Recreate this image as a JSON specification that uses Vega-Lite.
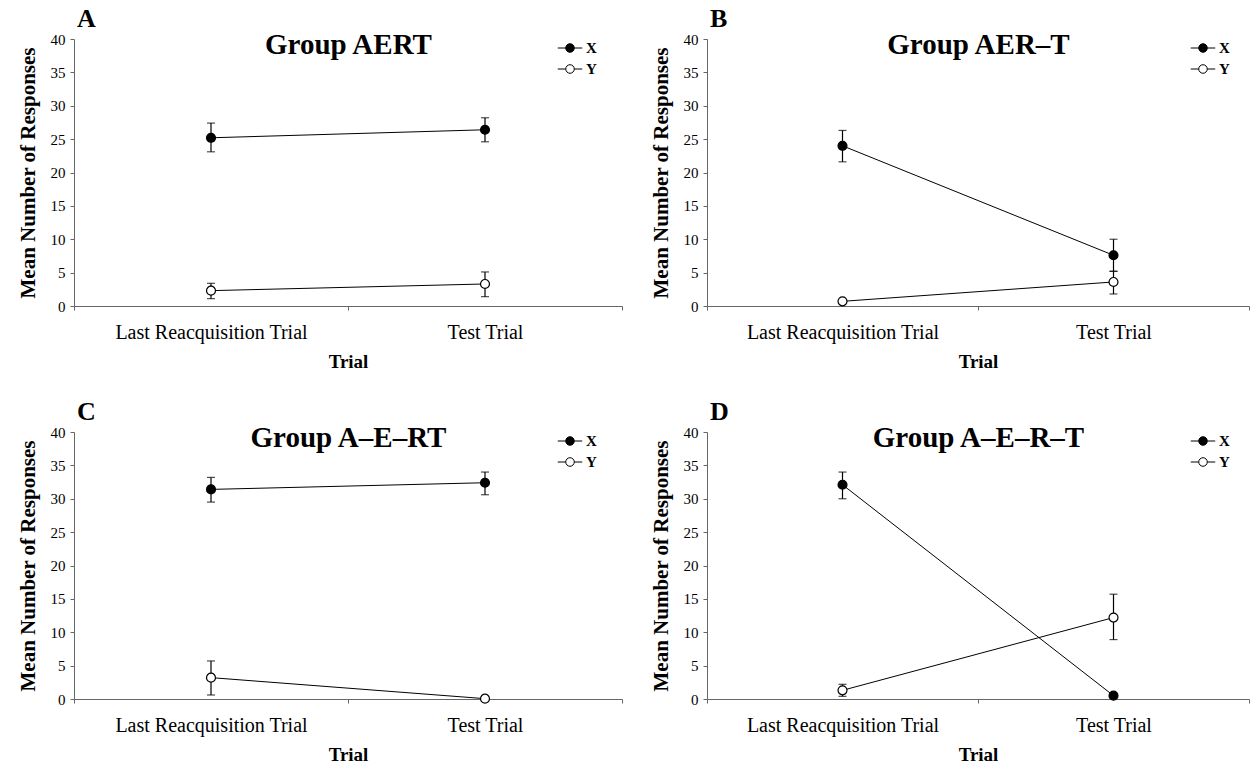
{
  "$schema": "https://vega.github.io/schema/vega-lite/v6.json",
  "background": "white",
  "padding": {"left": 16, "top": 6, "right": 0, "bottom": 2},
  "config": {
    "view": {"stroke": null},
    "font": "Liberation Serif",
    "axis": {"grid": false, "labelColor": "black", "titleColor": "black", "labelFont": "Liberation Serif", "titleFont": "Liberation Serif", "domainColor": "#666", "tickColor": "#666", "labelLimit": 400},
    "axisY": {"titleFontSize": 21, "titleFontWeight": "bold", "labelFontSize": 15, "tickSize": 4, "labelPadding": 5, "titlePadding": 12},
    "title": {"font": "Liberation Serif", "fontSize": 26, "fontWeight": "bold", "anchor": "start", "frame": "group", "color": "black", "offset": -2},
    "legend": {"title": null, "orient": "none", "legendX": 483, "legendY": -4, "symbolType": "M-1,0H-0.35M0.35,0H1M0.35,0A0.35,0.35 0 1,1 -0.35,0A0.35,0.35 0 1,1 0.35,0Z", "symbolSize": 600, "symbolStrokeColor": "black", "symbolStrokeWidth": 1, "labelFont": "Liberation Serif", "labelFontWeight": "bold", "labelFontSize": 15, "labelColor": "black", "rowPadding": 0, "labelOffset": 3}
  },
  "resolve": {"scale": {"fill": "independent"}, "legend": {"fill": "independent"}},
  "datasets": {
    "d": [
      {"panel": "A", "series": "X", "trial": "Last Reacquisition Trial", "mean": 25.2, "lo": 23.1, "hi": 27.4},
      {"panel": "A", "series": "X", "trial": "Test Trial", "mean": 26.4, "lo": 24.6, "hi": 28.2},
      {"panel": "A", "series": "Y", "trial": "Last Reacquisition Trial", "mean": 2.3, "lo": 1.1, "hi": 3.4},
      {"panel": "A", "series": "Y", "trial": "Test Trial", "mean": 3.3, "lo": 1.4, "hi": 5.1},
      {"panel": "B", "series": "X", "trial": "Last Reacquisition Trial", "mean": 24.0, "lo": 21.6, "hi": 26.3},
      {"panel": "B", "series": "X", "trial": "Test Trial", "mean": 7.6, "lo": 5.2, "hi": 10.0},
      {"panel": "B", "series": "Y", "trial": "Last Reacquisition Trial", "mean": 0.7, "lo": null, "hi": null},
      {"panel": "B", "series": "Y", "trial": "Test Trial", "mean": 3.6, "lo": 1.8, "hi": 5.2},
      {"panel": "C", "series": "X", "trial": "Last Reacquisition Trial", "mean": 31.4, "lo": 29.5, "hi": 33.2},
      {"panel": "C", "series": "X", "trial": "Test Trial", "mean": 32.4, "lo": 30.6, "hi": 34.0},
      {"panel": "C", "series": "Y", "trial": "Last Reacquisition Trial", "mean": 3.2, "lo": 0.6, "hi": 5.7},
      {"panel": "C", "series": "Y", "trial": "Test Trial", "mean": 0.05, "lo": null, "hi": null},
      {"panel": "D", "series": "X", "trial": "Last Reacquisition Trial", "mean": 32.1, "lo": 30.0, "hi": 34.0},
      {"panel": "D", "series": "X", "trial": "Test Trial", "mean": 0.5, "lo": null, "hi": null},
      {"panel": "D", "series": "Y", "trial": "Last Reacquisition Trial", "mean": 1.3, "lo": 0.4, "hi": 2.2},
      {"panel": "D", "series": "Y", "trial": "Test Trial", "mean": 12.2, "lo": 8.9, "hi": 15.7}
    ]
  },
  "vconcat": [
    {"hconcat": [
      {
        "width": 548, "height": 267,
        "title": {"text": "A", "dx": 3},
        "data": {"name": "d"},
        "transform": [{"filter": "datum.panel === 'A'"}],
        "resolve": {"axis": {"x": "independent"}},
        "layer": [
          {"mark": {"type": "line", "color": "black", "strokeWidth": 1},
           "encoding": {
             "x": {"field": "trial", "type": "nominal", "sort": ["Last Reacquisition Trial", "Test Trial"], "scale": {"type": "band", "paddingInner": 0, "paddingOuter": 0},
                   "axis": {"orient": "top", "title": "Group AERT", "titleFontSize": 29, "titleFontWeight": "bold", "titlePadding": -14, "titleBaseline": "alphabetic", "domain": false, "ticks": false, "labels": false}},
             "y": {"field": "mean", "type": "quantitative", "scale": {"domain": [0, 40], "nice": false},
                   "axis": {"title": "Mean Number of Responses", "values": [0, 5, 10, 15, 20, 25, 30, 35, 40]}},
             "detail": {"field": "series"}}},
          {"transform": [{"filter": "isValid(datum.lo)"}],
           "mark": {"type": "errorbar", "ticks": {"size": 8}, "color": "black", "thickness": 1.2},
           "encoding": {
             "x": {"field": "trial", "type": "nominal", "sort": ["Last Reacquisition Trial", "Test Trial"], "axis": null},
             "y": {"field": "lo", "type": "quantitative", "axis": {"title": "Mean Number of Responses", "values": [0, 5, 10, 15, 20, 25, 30, 35, 40]}},
             "y2": {"field": "hi"}}},
          {"mark": {"type": "point", "filled": true, "size": 80, "stroke": "black", "strokeWidth": 1.2, "opacity": 1},
           "encoding": {
             "x": {"field": "trial", "type": "nominal", "sort": ["Last Reacquisition Trial", "Test Trial"],
                   "axis": {"title": "Trial", "titleFontSize": 19, "titleFontWeight": "bold", "labelFontSize": 20, "labelAngle": 0, "tickBand": "extent", "tickSize": 4, "labelPadding": 12, "titlePadding": 10}},
             "y": {"field": "mean", "type": "quantitative", "axis": {"title": "Mean Number of Responses", "values": [0, 5, 10, 15, 20, 25, 30, 35, 40]}},
             "fill": {"field": "series", "type": "nominal", "scale": {"domain": ["X", "Y"], "range": ["black", "white"]}}}}
        ]
      },
      {
        "width": 542, "height": 267,
        "title": {"text": "B", "dx": 3},
        "data": {"name": "d"},
        "transform": [{"filter": "datum.panel === 'B'"}],
        "resolve": {"axis": {"x": "independent"}},
        "layer": [
          {"mark": {"type": "line", "color": "black", "strokeWidth": 1},
           "encoding": {
             "x": {"field": "trial", "type": "nominal", "sort": ["Last Reacquisition Trial", "Test Trial"], "scale": {"type": "band", "paddingInner": 0, "paddingOuter": 0},
                   "axis": {"orient": "top", "title": "Group AER–T", "titleFontSize": 29, "titleFontWeight": "bold", "titlePadding": -14, "titleBaseline": "alphabetic", "domain": false, "ticks": false, "labels": false}},
             "y": {"field": "mean", "type": "quantitative", "scale": {"domain": [0, 40], "nice": false},
                   "axis": {"title": "Mean Number of Responses", "values": [0, 5, 10, 15, 20, 25, 30, 35, 40]}},
             "detail": {"field": "series"}}},
          {"transform": [{"filter": "isValid(datum.lo)"}],
           "mark": {"type": "errorbar", "ticks": {"size": 8}, "color": "black", "thickness": 1.2},
           "encoding": {
             "x": {"field": "trial", "type": "nominal", "sort": ["Last Reacquisition Trial", "Test Trial"], "axis": null},
             "y": {"field": "lo", "type": "quantitative", "axis": {"title": "Mean Number of Responses", "values": [0, 5, 10, 15, 20, 25, 30, 35, 40]}},
             "y2": {"field": "hi"}}},
          {"mark": {"type": "point", "filled": true, "size": 80, "stroke": "black", "strokeWidth": 1.2, "opacity": 1},
           "encoding": {
             "x": {"field": "trial", "type": "nominal", "sort": ["Last Reacquisition Trial", "Test Trial"],
                   "axis": {"title": "Trial", "titleFontSize": 19, "titleFontWeight": "bold", "labelFontSize": 20, "labelAngle": 0, "tickBand": "extent", "tickSize": 4, "labelPadding": 12, "titlePadding": 10}},
             "y": {"field": "mean", "type": "quantitative", "axis": {"title": "Mean Number of Responses", "values": [0, 5, 10, 15, 20, 25, 30, 35, 40]}},
             "fill": {"field": "series", "type": "nominal", "scale": {"domain": ["X", "Y"], "range": ["black", "white"]}}}}
        ]
      }
    ], "spacing": 26, "resolve": {"scale": {"fill": "independent"}, "legend": {"fill": "independent"}}},
    {"hconcat": [
      {
        "width": 548, "height": 267,
        "title": {"text": "C", "dx": 3},
        "data": {"name": "d"},
        "transform": [{"filter": "datum.panel === 'C'"}],
        "resolve": {"axis": {"x": "independent"}},
        "layer": [
          {"mark": {"type": "line", "color": "black", "strokeWidth": 1},
           "encoding": {
             "x": {"field": "trial", "type": "nominal", "sort": ["Last Reacquisition Trial", "Test Trial"], "scale": {"type": "band", "paddingInner": 0, "paddingOuter": 0},
                   "axis": {"orient": "top", "title": "Group A–E–RT", "titleFontSize": 29, "titleFontWeight": "bold", "titlePadding": -14, "titleBaseline": "alphabetic", "domain": false, "ticks": false, "labels": false}},
             "y": {"field": "mean", "type": "quantitative", "scale": {"domain": [0, 40], "nice": false},
                   "axis": {"title": "Mean Number of Responses", "values": [0, 5, 10, 15, 20, 25, 30, 35, 40]}},
             "detail": {"field": "series"}}},
          {"transform": [{"filter": "isValid(datum.lo)"}],
           "mark": {"type": "errorbar", "ticks": {"size": 8}, "color": "black", "thickness": 1.2},
           "encoding": {
             "x": {"field": "trial", "type": "nominal", "sort": ["Last Reacquisition Trial", "Test Trial"], "axis": null},
             "y": {"field": "lo", "type": "quantitative", "axis": {"title": "Mean Number of Responses", "values": [0, 5, 10, 15, 20, 25, 30, 35, 40]}},
             "y2": {"field": "hi"}}},
          {"mark": {"type": "point", "filled": true, "size": 80, "stroke": "black", "strokeWidth": 1.2, "opacity": 1},
           "encoding": {
             "x": {"field": "trial", "type": "nominal", "sort": ["Last Reacquisition Trial", "Test Trial"],
                   "axis": {"title": "Trial", "titleFontSize": 19, "titleFontWeight": "bold", "labelFontSize": 20, "labelAngle": 0, "tickBand": "extent", "tickSize": 4, "labelPadding": 12, "titlePadding": 10}},
             "y": {"field": "mean", "type": "quantitative", "axis": {"title": "Mean Number of Responses", "values": [0, 5, 10, 15, 20, 25, 30, 35, 40]}},
             "fill": {"field": "series", "type": "nominal", "scale": {"domain": ["X", "Y"], "range": ["black", "white"]}}}}
        ]
      },
      {
        "width": 542, "height": 267,
        "title": {"text": "D", "dx": 3},
        "data": {"name": "d"},
        "transform": [{"filter": "datum.panel === 'D'"}],
        "resolve": {"axis": {"x": "independent"}},
        "layer": [
          {"mark": {"type": "line", "color": "black", "strokeWidth": 1},
           "encoding": {
             "x": {"field": "trial", "type": "nominal", "sort": ["Last Reacquisition Trial", "Test Trial"], "scale": {"type": "band", "paddingInner": 0, "paddingOuter": 0},
                   "axis": {"orient": "top", "title": "Group A–E–R–T", "titleFontSize": 29, "titleFontWeight": "bold", "titlePadding": -14, "titleBaseline": "alphabetic", "domain": false, "ticks": false, "labels": false}},
             "y": {"field": "mean", "type": "quantitative", "scale": {"domain": [0, 40], "nice": false},
                   "axis": {"title": "Mean Number of Responses", "values": [0, 5, 10, 15, 20, 25, 30, 35, 40]}},
             "detail": {"field": "series"}}},
          {"transform": [{"filter": "isValid(datum.lo)"}],
           "mark": {"type": "errorbar", "ticks": {"size": 8}, "color": "black", "thickness": 1.2},
           "encoding": {
             "x": {"field": "trial", "type": "nominal", "sort": ["Last Reacquisition Trial", "Test Trial"], "axis": null},
             "y": {"field": "lo", "type": "quantitative", "axis": {"title": "Mean Number of Responses", "values": [0, 5, 10, 15, 20, 25, 30, 35, 40]}},
             "y2": {"field": "hi"}}},
          {"mark": {"type": "point", "filled": true, "size": 80, "stroke": "black", "strokeWidth": 1.2, "opacity": 1},
           "encoding": {
             "x": {"field": "trial", "type": "nominal", "sort": ["Last Reacquisition Trial", "Test Trial"],
                   "axis": {"title": "Trial", "titleFontSize": 19, "titleFontWeight": "bold", "labelFontSize": 20, "labelAngle": 0, "tickBand": "extent", "tickSize": 4, "labelPadding": 12, "titlePadding": 10}},
             "y": {"field": "mean", "type": "quantitative", "axis": {"title": "Mean Number of Responses", "values": [0, 5, 10, 15, 20, 25, 30, 35, 40]}},
             "fill": {"field": "series", "type": "nominal", "scale": {"domain": ["X", "Y"], "range": ["black", "white"]}}}}
        ]
      }
    ], "spacing": 26, "resolve": {"scale": {"fill": "independent"}, "legend": {"fill": "independent"}}}
  ],
  "spacing": 28
}
